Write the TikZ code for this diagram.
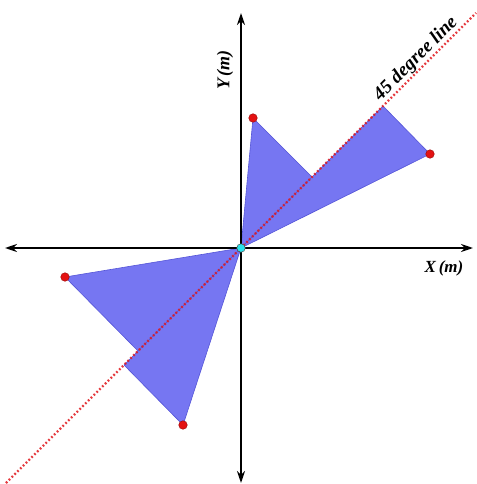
\documentclass[tikz,border=0pt]{standalone}
\usepackage{fontspec}
\setmainfont{Liberation Serif}
\usetikzlibrary{arrows.meta}
\definecolor{triblue}{RGB}{118,118,242}
\definecolor{triedge}{RGB}{85,85,215}
\definecolor{dotred}{RGB}{225,25,30}
\definecolor{ptred}{RGB}{228,18,18}
\definecolor{ptcyan}{RGB}{40,225,235}
\tikzset{
  tri/.style={fill=triblue, draw=triedge, line width=0.6pt, line join=round},
  axisline/.style={line width=2pt, black, {Stealth[length=12pt,width=8pt]}-{Stealth[length=12pt,width=8pt]}},
  degline/.style={dotred, line width=2.4pt, dash pattern=on 1.8pt off 2.2pt, opacity=0.85},
  redpt/.style={circle, fill=ptred, draw=ptred!70!black, line width=0.5pt, inner sep=0pt, minimum size=8.5pt},
  cyanpt/.style={circle, fill=ptcyan, draw=black!70, line width=0.5pt, inner sep=0pt, minimum size=8.5pt},
  lbl/.style={font=\fontsize{17}{17}\selectfont\bfseries\itshape, inner sep=0pt}
}
\begin{document}
\begin{tikzpicture}[x=1pt,y=-1pt]
\useasboundingbox (0,0) rectangle (476,484);
% key points
\coordinate (O) at (241,248);
\coordinate (P1) at (253,118);
\coordinate (F1) at (312,177);
\coordinate (P2) at (430,154);
\coordinate (F2) at (383,106);
\coordinate (P3) at (65,277);
\coordinate (F3) at (138,351);
\coordinate (P4) at (183,425);
\coordinate (F4) at (124,365);
\coordinate (Lb) at (6,483);
\coordinate (Lt) at (476,13);
\coordinate (Xl) at (5,248);
\coordinate (Xr) at (473,248);
\coordinate (Yt) at (241,13);
\coordinate (Yb) at (241,483);
% triangles
\draw[tri] (O) -- (P1) -- (F1) -- cycle;
\draw[tri] (O) -- (P2) -- (F2) -- cycle;
\draw[tri] (O) -- (P3) -- (F3) -- cycle;
\draw[tri] (O) -- (P4) -- (F4) -- cycle;
% 45 degree line
\draw[degline] (Lb) -- (Lt);
% axes
\draw[axisline] (Xl) -- (Xr);
\draw[axisline] (Yb) -- (Yt);
% points
\node[redpt] (n1) at (P1) {};
\node[redpt] (n2) at (P2) {};
\node[redpt] (n3) at (P3) {};
\node[redpt] (n4) at (P4) {};
\node[cyanpt] (n0) at (O) {};
% labels
\node[lbl] (xl) at (444,268) {X\,(m)};
\node[lbl, font=\fontsize{18}{18}\selectfont\bfseries\itshape, rotate=90] (yl) at (225,70) {Y\,(m)};
\node[lbl, font=\fontsize{19}{19}\selectfont\bfseries\itshape, rotate=45] (dl) at (416,59) {45 degree line};
\end{tikzpicture}
\end{document}
